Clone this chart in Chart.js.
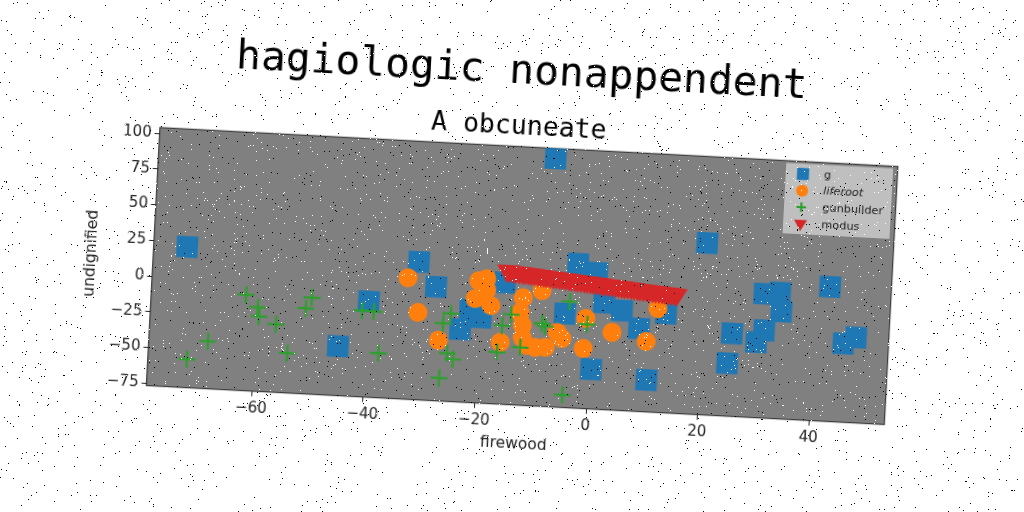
<!DOCTYPE html>
<html>
<head>
<meta charset="utf-8">
<title>hagiologic nonappendent</title>
<script src="https://cdn.jsdelivr.net/npm/chart.js@4/dist/chart.umd.js"></script>
<style>
  html, body { margin: 0; width: 1024px; height: 512px; overflow: hidden; background: #fff; }
  #wrap { position: absolute; left: 0; top: 0; width: 1024px; height: 512px; transform: rotate(3.02deg); transform-origin: 512px 256px; }
  #speckle { position: absolute; left: 0; top: 0; pointer-events: none; }
</style>
</head>
<body>
<div id="wrap"><canvas id="chart" width="1024" height="512"></canvas></div>
<canvas id="speckle" width="1024" height="512"></canvas>
<script>
// values
const xTicks = [-60, -40, -20, 0, 20, 40];
const yTicks = [-75, -50, -25, 0, 25, 50, 75, 100];

const gX = [-72.9, -45.0, -39.9, -31.3, -28.0, -21.7, -19.7, -23.3, -15.7, -2.8, 0.7, -4.7, 2.2, 5.5, 8.7, 13.4, 0.5, 10.5, 20.1, 42.5, 30.8, 33.6, 34.0, 25.4, 31.1, 29.8, 24.8, 47.6, 45.4, -7.8];
const gY = [21.8, -42.1, -9.8, 19.8, 3.1, -11.6, -16.8, -25.9, 8.4, 24.3, 18.7, -10.9, -1.9, -6.7, -18.6, -7.2, -48.9, -54.4, 43.6, 17.5, 10.2, 11.6, -1.6, -18.7, -15.4, -24.0, -39.7, -16.9, -21.6, 97.1];

const liferootX = [-33.1, -31.0, -27.1, -19.0, -20.4, -18.9, -20.9, -18.0, -12.3, -9.0, -12.7, -12.2, -12.1, -16.0, -11.2, -9.7, -7.9, -5.9, -5.0, -1.1, -0.9, 3.9, 10.1, 11.9];
const liferootY = [8.3, -15.6, -34.3, 10.5, 8.8, 2.9, -3.8, -8.1, -1.4, 4.2, -11.8, -20.8, -29.1, -33.4, -34.6, -35.6, -35.3, -24.4, -28.4, -34.6, -13.6, -22.4, -27.4, -4.0];

const gunbuilderX = [-61.9, -59.7, -59.4, -56.3, -68.3, -71.9, -54.0, -50.1, -51.1, -41.0, -38.9, -37.7, -25.1, -26.4, -25.4, -24.3, -26.6, -16.5, -15.8, -14.3, -12.4, -8.7, -8.1, -3.9, -0.6, -4.4];
const gunbuilderY = [-9.5, -17.9, -24.2, -29.1, -43.5, -56.7, -48.9, -9.1, -16.9, -16.3, -16.5, -45.5, -15.1, -22.3, -43.0, -47.0, -60.6, -40.4, -21.6, -13.6, -36.2, -18.7, -20.6, -2.4, -17.7, -67.9];

const modusX = [-15.4, -14.9, -14.3, -13.8, -13.2, -12.6, -12.1, -11.5, -11.0, -10.4, -9.8, -9.3, -8.7, -8.2, -7.6, -7.0, -6.5, -5.9, -5.4, -4.8, -4.2, -3.7, -3.1, -2.6, -2.0, -1.4, -0.9, -0.3, 0.2, 0.8, 1.4, 1.9, 2.5, 3.0, 3.6, 4.2, 4.7, 5.3, 5.8, 6.4, 7.0, 7.5, 8.1, 8.6, 9.2, 9.8, 10.3, 10.9, 11.4, 12.0, 12.6, 13.1, 13.7, 14.2, 14.8, 15.2];
const modusY = [16.7, 16.5, 16.3, 16.2, 16.0, 15.8, 15.6, 15.4, 15.2, 15.0, 14.8, 14.6, 14.4, 14.2, 14.1, 13.9, 13.7, 13.5, 13.3, 13.1, 12.9, 12.7, 12.5, 12.3, 12.1, 11.9, 11.8, 11.6, 11.4, 11.2, 11.0, 10.8, 10.6, 10.5, 10.3, 10.1, 9.9, 9.7, 9.5, 9.3, 9.1, 8.9, 8.7, 8.5, 8.3, 8.1, 8.0, 7.8, 7.6, 7.4, 7.2, 7.0, 6.9, 6.7, 6.5, 6.3];

const FONT = '"DejaVu Sans", sans-serif';
const MONO = '"DejaVu Sans Mono", monospace';

function pairs(xs, ys) {
  return xs.map((x, i) => ({ x: x, y: ys[i] }));
}

function tickText(v) {
  return String(v).replace('-', '\u2212');
}

// grey plot panel and its frame
const plotFrame = {
  id: 'plotFrame',
  beforeDraw(chart) {
    const a = chart.chartArea, ctx = chart.ctx;
    ctx.save();
    ctx.fillStyle = '#808080';
    ctx.fillRect(a.left, a.top, a.width, a.height);
    ctx.strokeStyle = '#222';
    ctx.lineWidth = 1;
    ctx.strokeRect(a.left, a.top, a.width, a.height);
    ctx.restore();
  }
};

// legend box, matplotlib style
const legendSizes = [8.5, 6, 4.8, 7.5];
const legendFonts = ['', 'italic ', '', ''];
const boxLegend = {
  id: 'boxLegend',
  afterDatasetsDraw(chart) {
    const ctx = chart.ctx;
    ctx.save();
    ctx.fillStyle = '#bfbfbf';
    ctx.fillRect(781, 148.5, 107, 70.5);
    ctx.textBaseline = 'middle';
    chart.data.datasets.forEach((ds, i) => {
      const y = 158.8 + i * 16.6;
      ctx.fillStyle = ds.backgroundColor;
      ctx.strokeStyle = ds.borderColor;
      ctx.lineWidth = ds.pointBorderWidth;
      Chart.helpers.drawPoint(ctx, {
        pointStyle: ds.pointStyle,
        rotation: ds.pointRotation || 0,
        radius: legendSizes[i],
        borderWidth: ds.pointBorderWidth
      }, 798.3, y);
      ctx.fillStyle = '#222';
      ctx.font = legendFonts[i] + '11.3px ' + FONT;
      ctx.fillText(ds.label, 819.3, y);
    });
    ctx.restore();
  }
};

new Chart(document.getElementById('chart'), {
  type: 'scatter',
  data: {
    datasets: [
      { label: 'g', data: pairs(gX, gY), order: 4, pointStyle: 'rect', pointRadius: 15.2, pointBorderWidth: 0, backgroundColor: '#1f77b4', borderColor: '#1f77b4' },
      { label: 'liferoot', data: pairs(liferootX, liferootY), order: 3, pointStyle: 'circle', pointRadius: 9.5, pointBorderWidth: 0, backgroundColor: '#ff7f0e', borderColor: '#ff7f0e' },
      { label: 'gunbuilder', data: pairs(gunbuilderX, gunbuilderY), order: 2, pointStyle: 'cross', pointRadius: 8.5, pointBorderWidth: 2.2, backgroundColor: '#2ca02c', borderColor: '#2ca02c' },
      { label: 'modus', data: pairs(modusX, modusY), order: 1, pointStyle: 'triangle', pointRotation: 180, pointRadius: 12, pointBorderWidth: 0, backgroundColor: '#d62728', borderColor: '#d62728' }
    ]
  },
  options: {
    responsive: false,
    animation: false,
    devicePixelRatio: 1,
    layout: { padding: 0, autoPadding: false },
    plugins: {
      legend: { display: false },
      tooltip: { enabled: false },
      title: {
        display: true,
        text: 'hagiologic nonappendent',
        color: '#000',
        font: { family: MONO, size: 41.3, weight: 'normal', lineHeight: 1.2 },
        padding: { top: 47, bottom: 6 }
      },
      subtitle: {
        display: true,
        text: 'A obcuneate',
        color: '#000',
        font: { family: MONO, size: 26.5, weight: 'normal', lineHeight: 1.2 },
        padding: { top: 8.5, bottom: 3.4 }
      }
    },
    scales: {
      x: {
        type: 'linear',
        min: -78.9,
        max: 53.5,
        afterFit(scale) { scale.height = 107.3; },
        afterBuildTicks(scale) { scale.ticks = xTicks.map(v => ({ value: v })); },
        grid: { drawOnChartArea: false, tickLength: 5, tickColor: '#222' },
        border: { display: false },
        ticks: { color: '#222', padding: 3, maxRotation: 0, autoSkip: false, font: { family: FONT, size: 15 }, callback: tickText },
        title: { display: true, text: 'firewood', color: '#222', font: { family: FONT, size: 15.5 }, padding: { top: 0, bottom: 59 } }
      },
      y: {
        type: 'linear',
        min: -76.7,
        max: 104.1,
        afterFit(scale) { scale.width = 153.7; },
        afterBuildTicks(scale) { scale.ticks = yTicks.map(v => ({ value: v })); },
        grid: { drawOnChartArea: false, tickLength: 5, tickColor: '#222' },
        border: { display: false },
        ticks: { color: '#222', padding: 3, autoSkip: false, font: { family: FONT, size: 15 }, callback: tickText },
        title: { display: true, text: 'undignified', color: '#222', font: { family: FONT, size: 15.5 }, padding: { top: 83, bottom: 0 } }
      },
      // empty axis on the right, only holds the margin so the titles stay centred on the page
      margin: {
        type: 'linear',
        position: 'right',
        afterFit(scale) { scale.width = 131.3; },
        grid: { display: false },
        border: { display: false },
        ticks: { display: false }
      }
    }
  },
  plugins: [plotFrame, boxLegend]
});

// salt and pepper speckle over the whole photo (fixed seed, texture only, not data)
(function () {
  const c = document.getElementById('speckle').getContext('2d');
  const img = c.createImageData(1024, 512);
  let seed = 20240611;
  function next() {
    seed = (seed * 1664525 + 1013904223) >>> 0;
    return seed / 4294967296;
  }
  for (let i = 0; i < img.data.length; i += 4) {
    const r = next();
    if (r < 0.006) {
      img.data[i + 3] = 255;
    } else if (r < 0.014) {
      img.data[i] = img.data[i + 1] = img.data[i + 2] = 255;
      img.data[i + 3] = 255;
    }
  }
  c.putImageData(img, 0, 0);
})();
</script>
</body>
</html>
